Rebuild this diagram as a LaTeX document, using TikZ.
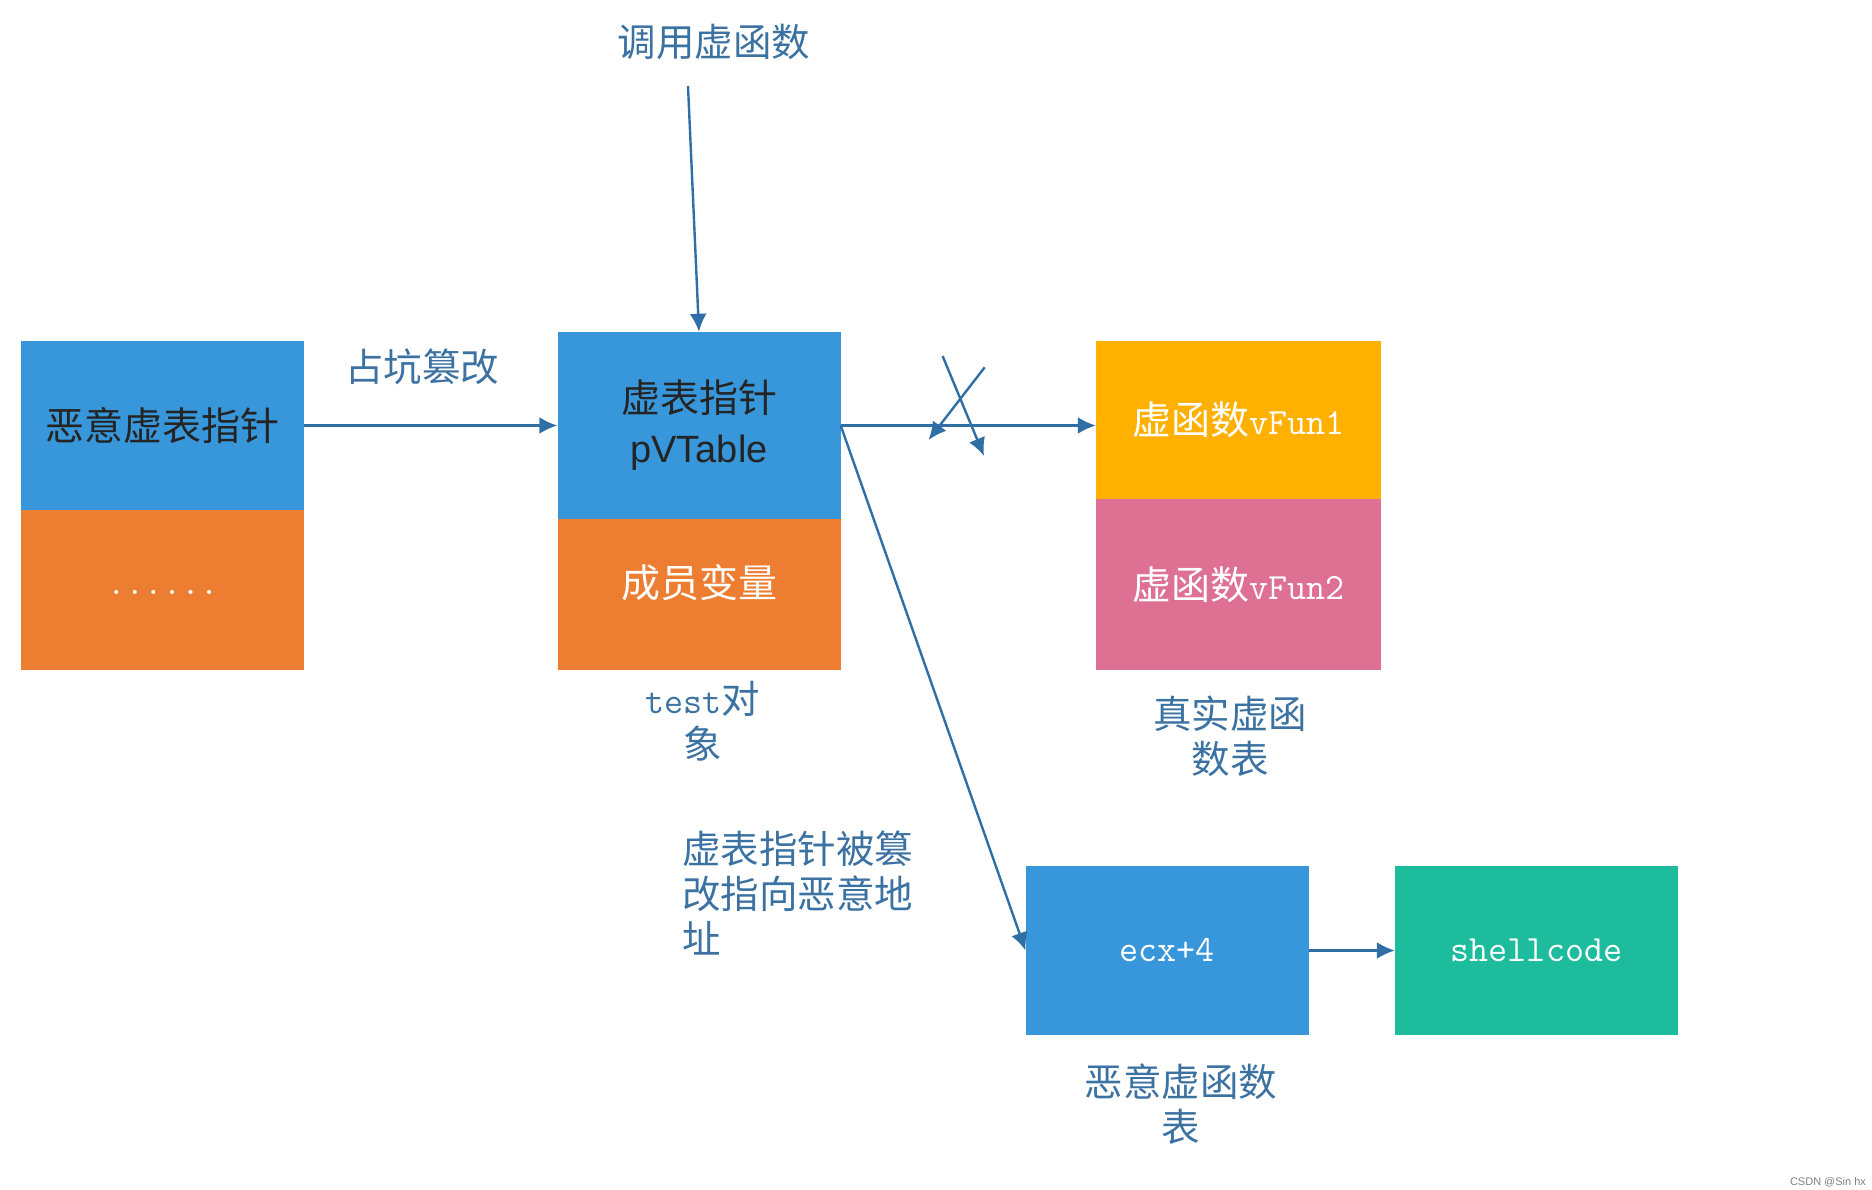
\documentclass[tikz,border=0pt]{standalone}
\usepackage{fontspec}
\setmainfont{Noto Sans CJK SC}
\newfontfamily\cjk{Noto Sans CJK SC}
\newfontfamily\arial{Liberation Sans}
\usetikzlibrary{arrows.meta}
\definecolor{cblue}{HTML}{3797DA}
\definecolor{corange}{HTML}{ED7D31}
\definecolor{camber}{HTML}{FFB000}
\definecolor{cpink}{HTML}{DD7093}
\definecolor{cgreen}{HTML}{1CBC9C}
\definecolor{carrow}{HTML}{2F6FA6}
\definecolor{clabel}{HTML}{3B72A2}
\definecolor{cdark}{HTML}{242424}
\newcommand{\lat}[1]{{\ttfamily\fontsize{37}{44}\selectfont #1}}
\tikzset{
  cell/.style={rectangle, inner sep=0pt, draw=none, minimum width=283pt, font=\cjk\fontsize{39}{52}\selectfont, align=center},
  lbl/.style={inner sep=0pt, text=clabel, font=\cjk\fontsize{38.5}{45}\selectfont},
  conn/.style={draw=carrow, line width=2.4pt, -{Latex[length=18pt,width=17pt]}},
}
\begin{document}
\begin{tikzpicture}[x=1pt,y=-1pt]
\useasboundingbox (0,0) rectangle (1872,1190);
% left block
\node[cell, fill=cblue, minimum height=169pt, text=cdark] (lb) at (162.75,425.5) {恶意虚表指针};
\node[cell, fill=corange, minimum height=160pt, text=white] (lo) at (162.75,590) {\raisebox{-4pt}[0pt][0pt]{\ttfamily\fontsize{36}{40}\selectfont ......}};
% middle block
\node[cell, fill=cblue, minimum height=187pt, text=cdark] (mb) at (699,425.5) {虚表指针\\[-2pt]{\arial\fontsize{38}{52}\selectfont pVTable}};
\node[cell, fill=corange, minimum height=151pt, text=white] (mo) at (699,594.5) {\raisebox{-3pt}[0pt][0pt]{成员变量}};
% right block
\node[cell, fill=camber, minimum width=285pt, minimum height=157.5pt, text=white] (ra) at (1238.5,419.75) {\raisebox{-4pt}{虚函数\lat{vFun1}}};
\node[cell, fill=cpink, minimum width=285pt, minimum height=171.5pt, text=white] (rp) at (1238.5,584.25) {虚函数\lat{vFun2}};
% bottom blocks
\node[cell, fill=cblue, minimum height=169pt, text=white] (ecx) at (1167.25,950.5) {\lat{ecx+4}};
\node[cell, fill=cgreen, minimum height=169pt, text=white] (sc) at (1536.5,950.5) {\lat{shellcode}};
% labels
\node[lbl] (call) at (714,42) {调用虚函数};
\node[lbl] (zk) at (422,367) {占坑篡改};
\node[lbl, align=center] (testobj) at (703,721) {\lat{test}对\\象};
\node[lbl, align=center] (real) at (1230,736) {真实虚函\\数表};
\node[lbl, align=center] (evil) at (1181,1104) {恶意虚函数\\表};
\node[lbl, align=left, anchor=west] (note) at (682,893) {虚表指针被篡\\改指向恶意地\\址};
\node[text=gray, font=\arial\fontsize{11}{13}\selectfont] (wm) at (1828,1182) {CSDN @Sin hx};
% connectors
\coordinate (cs) at (688,86);
\draw[conn] (cs) -- (mb.north);
\draw[conn] (lb.east) -- (mb.west);
\draw[conn] (mb.east) -- (mb.east -| ra.west);
\draw[conn] (mb.east) -- (ecx.west);
\draw[conn] (ecx.east) -- (sc.west);
\coordinate (x1s) at (942.6,356);
\coordinate (x1e) at (984,456);
\coordinate (x2s) at (984.7,367.3);
\coordinate (x2e) at (928.5,440);
\draw[conn] (x1s) -- (x1e);
\draw[conn] (x2s) -- (x2e);
\end{tikzpicture}
\end{document}
